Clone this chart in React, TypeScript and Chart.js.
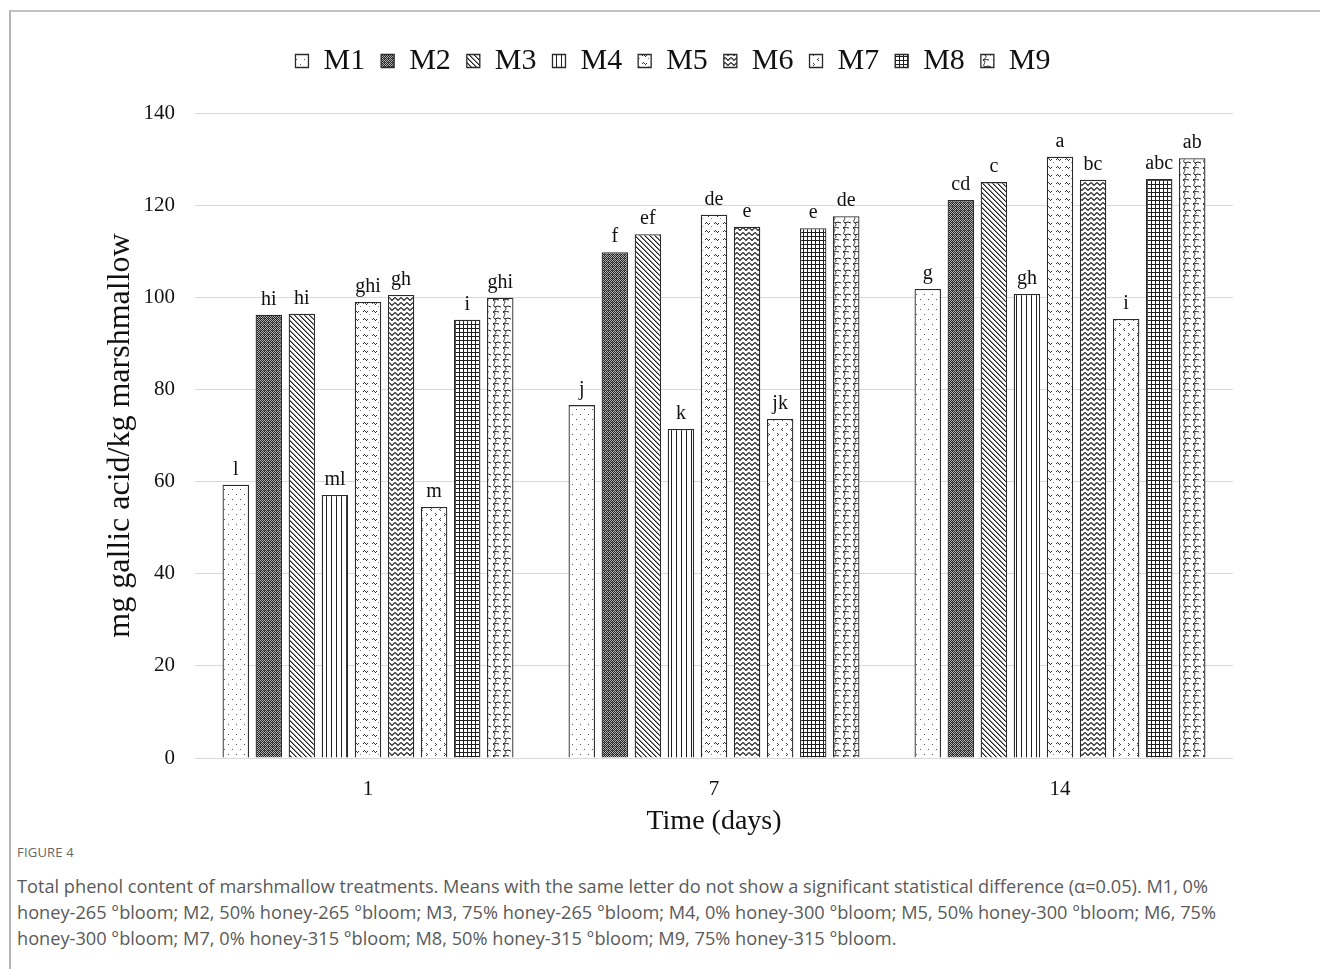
import React, { useEffect, useRef } from 'react';
import { Chart, registerables } from 'chart.js';

Chart.register(...registerables);

// ---- data ----
const DAYS = ['1', '7', '14'];
const SERIES = ['M1', 'M2', 'M3', 'M4', 'M5', 'M6', 'M7', 'M8', 'M9'];

const M1 = [59.3, 76.6, 101.8];
const M2 = [96.2, 109.8, 121.1];
const M3 = [96.4, 113.7, 125.0];
const M4 = [57.1, 71.4, 100.7];
const M5 = [99.0, 117.9, 130.5];
const M6 = [100.5, 115.3, 125.5];
const M7 = [54.5, 73.6, 95.3];
const M8 = [95.1, 115.0, 125.7];
const M9 = [99.9, 117.6, 130.2];

const M1_LETTERS = ['l', 'j', 'g'];
const M2_LETTERS = ['hi', 'f', 'cd'];
const M3_LETTERS = ['hi', 'ef', 'c'];
const M4_LETTERS = ['ml', 'k', 'gh'];
const M5_LETTERS = ['ghi', 'de', 'a'];
const M6_LETTERS = ['gh', 'e', 'bc'];
const M7_LETTERS = ['m', 'jk', 'i'];
const M8_LETTERS = ['i', 'e', 'abc'];
const M9_LETTERS = ['ghi', 'de', 'ab'];

const VALUES = [M1, M2, M3, M4, M5, M6, M7, M8, M9];
const LETTERS = [M1_LETTERS, M2_LETTERS, M3_LETTERS, M4_LETTERS, M5_LETTERS, M6_LETTERS, M7_LETTERS, M8_LETTERS, M9_LETTERS];

const Y_MIN = 0;
const Y_MAX = 140;
const Y_STEP = 20;

const Y_TITLE = 'mg gallic acid/kg marshmallow';
const X_TITLE = 'Time (days)';

const SERIF = '"Liberation Serif", "Times New Roman", serif';

// ---- patterns ----
type Drawer = (g: CanvasRenderingContext2D) => void;

function tile(w: number, h: number, draw: Drawer): HTMLCanvasElement {
  const c = document.createElement('canvas');
  c.width = w;
  c.height = h;
  const g = c.getContext('2d')!;
  g.fillStyle = '#ffffff';
  g.fillRect(0, 0, w, h);
  g.fillStyle = '#1e1e1e';
  g.strokeStyle = '#1e1e1e';
  draw(g);
  return c;
}

function px(g: CanvasRenderingContext2D, pts: number[][]) {
  pts.forEach(([x, y]) => g.fillRect(x, y, 1, 1));
}

const TILES: Array<() => HTMLCanvasElement> = [
  // M1 sparse dots
  () => tile(8, 10, (g) => {
    g.fillStyle = '#555';
    px(g, [[1, 2], [5, 7]]);
  }),
  // M2 dense dark dither
  () => tile(4, 4, (g) => {
    g.fillStyle = '#b0b0b0';
    g.fillRect(0, 0, 4, 4);
    g.fillStyle = '#262626';
    for (let y = 0; y < 4; y++) for (let x = 0; x < 4; x++) if ((x + y) % 2 === 0) g.fillRect(x, y, 1, 1);
    g.fillStyle = '#555';
    g.fillRect(1, 2, 1, 1);
  }),
  // M3 diagonal "\" lines
  () => tile(5, 5, (g) => {
    for (let i = 0; i < 5; i++) {
      g.fillStyle = '#1e1e1e';
      g.fillRect(i, i, 1, 1);
      g.fillStyle = '#8a8a8a';
      g.fillRect((i + 1) % 5, i, 1, 1);
    }
  }),
  // M4 vertical lines
  () => tile(5, 2, (g) => {
    g.fillRect(0, 0, 1, 2);
  }),
  // M5 small scattered waves
  () => tile(9, 8, (g) => {
    g.fillStyle = '#333';
    px(g, [[1, 3], [2, 2], [3, 3], [4, 4], [5, 3]]);
    g.fillStyle = '#888';
    px(g, [[7, 6]]);
  }),
  // M6 zigzag
  () => tile(6, 5, (g) => {
    g.lineWidth = 1.1;
    g.beginPath();
    g.moveTo(0, 0.5);
    g.lineTo(3, 3.5);
    g.lineTo(6, 0.5);
    g.stroke();
  }),
  // M7 sparse chevrons
  () => tile(9, 10, (g) => {
    g.fillStyle = '#444';
    px(g, [[1, 1], [2, 2], [1, 3]]);
    px(g, [[6, 6], [5, 7], [6, 8]]);
  }),
  // M8 grid
  () => tile(4, 4, (g) => {
    g.fillRect(0, 0, 4, 1);
    g.fillRect(0, 0, 1, 4);
  }),
  // M9 shingle / weave
  () => tile(10, 12, (g) => {
    g.lineWidth = 1;
    g.beginPath();
    g.moveTo(2, 0);
    g.bezierCurveTo(7, 2, 0, 5, 4, 7);
    g.bezierCurveTo(7, 9, 3, 11, 2, 12);
    g.moveTo(4, 7);
    g.quadraticCurveTo(7, 5, 10, 7);
    g.moveTo(0, 7);
    g.quadraticCurveTo(-3, 5, -6, 7);
    g.moveTo(2, 12);
    g.quadraticCurveTo(6, 11, 8, 12);
    g.moveTo(8, 0);
    g.quadraticCurveTo(6, -1, 2, 0);
    g.stroke();
  }),
];

// ---- plugins ----
const letterPlugin = {
  id: 'letterLabels',
  afterDatasetsDraw(chart: any) {
    const ctx = chart.ctx as CanvasRenderingContext2D;
    ctx.save();
    ctx.font = `20px ${SERIF}`;
    ctx.fillStyle = '#111';
    ctx.textAlign = 'center';
    ctx.textBaseline = 'alphabetic';
    chart.data.datasets.forEach((_ds: any, i: number) => {
      const meta = chart.getDatasetMeta(i);
      meta.data.forEach((bar: any, j: number) => {
        ctx.fillText(LETTERS[i][j], bar.x, bar.y - 10);
      });
    });
    ctx.restore();
  },
};

const legendGapPlugin = {
  id: 'legendGap',
  beforeInit(chart: any) {
    const legend = chart.legend;
    if (!legend) return;
    const orig = legend.fit;
    legend.fit = function () {
      orig.call(this);
      this.height += 27;
    };
  },
};

function ChartCanvas() {
  const ref = useRef<HTMLCanvasElement | null>(null);
  useEffect(() => {
    const canvas = ref.current!;
    const ctx = canvas.getContext('2d')!;
    const patterns = TILES.map((t) => ctx.createPattern(t(), 'repeat')!);
    const chart = new Chart(canvas, {
      type: 'bar',
      data: {
        labels: DAYS,
        datasets: SERIES.map((name, i) => ({
          label: name,
          data: VALUES[i],
          backgroundColor: patterns[i],
          borderColor: '#2a2a2a',
          borderWidth: 1.3,
          borderSkipped: 'bottom',
          categoryPercentage: 0.86,
          barPercentage: 0.8,
        })),
      },
      options: {
        responsive: false,
        animation: false,
        events: [],
        layout: { padding: { top: 18, left: 30, right: 15, bottom: 0 } },
        plugins: {
          tooltip: { enabled: false },
          legend: {
            display: true,
            position: 'top',
            labels: {
              boxWidth: 13,
              boxHeight: 13,
              padding: 16,
              color: '#111',
              font: { family: SERIF, size: 30 },
            },
          },
        },
        scales: {
          x: {
            grid: { display: false },
            border: { display: false },
            ticks: { color: '#111', font: { family: SERIF, size: 21 }, padding: 11 },
            title: {
              display: true,
              text: X_TITLE,
              color: '#111',
              font: { family: SERIF, size: 28 },
              padding: { top: 0, bottom: 4 },
            },
            afterFit: (s: any) => {
              s.height = 84;
            },
          },
          y: {
            min: Y_MIN,
            max: Y_MAX,
            ticks: { stepSize: Y_STEP, color: '#111', font: { family: SERIF, size: 21 }, padding: 20 },
            grid: { color: '#d9d9d9', lineWidth: 1, drawTicks: false },
            border: { display: false },
            title: {
              display: true,
              text: Y_TITLE,
              color: '#111',
              font: { family: SERIF, size: 32 },
              padding: { top: 60, bottom: 0 },
            },
            afterFit: (s: any) => {
              s.width = 154;
            },
          },
          spacer: {
            type: 'linear',
            position: 'right',
            display: true,
            grid: { display: false },
            ticks: { display: false },
            border: { display: false },
            afterFit: (s: any) => {
              s.width = 72;
            },
          },
        },
      } as any,
      plugins: [letterPlugin, legendGapPlugin],
    });
    return () => chart.destroy();
  }, []);
  return <canvas ref={ref} width={1309} height={830} style={{ width: 1309, height: 830, display: 'block' }} />;
}

export default function App() {
  const capFont = '"Open Sans", "Noto Sans", sans-serif';
  return (
    <div>
      <div
        style={{
          position: 'absolute',
          left: 9,
          top: 10,
          width: 1311,
          height: 959,
          borderTop: '2px solid #c2c2c2',
          borderLeft: '2px solid #b5b5b5',
          boxSizing: 'border-box',
          background: '#fff',
        }}
      />
      <div style={{ position: 'absolute', left: 11, top: 12, width: 1309, height: 830 }}>
        <ChartCanvas />
      </div>
      <div
        style={{
          position: 'absolute',
          left: 17,
          top: 843,
          fontFamily: capFont,
          fontSize: 13,
          lineHeight: '18px',
          color: '#666',
          letterSpacing: 0.2,
        }}
      >
        FIGURE 4
      </div>
      <div
        style={{
          position: 'absolute',
          left: 17,
          top: 873,
          width: 1300,
          whiteSpace: 'nowrap',
          fontFamily: capFont,
          fontSize: 18.2,
          lineHeight: '26px',
          color: '#5a5a5a',
        }}
      >
        Total phenol content of marshmallow treatments. Means with the same letter do not show a significant statistical difference (α=0.05). M1, 0%
        <br />
        honey-265 °bloom; M2, 50% honey-265 °bloom; M3, 75% honey-265 °bloom; M4, 0% honey-300 °bloom; M5, 50% honey-300 °bloom; M6, 75%
        <br />
        honey-300 °bloom; M7, 0% honey-315 °bloom; M8, 50% honey-315 °bloom; M9, 75% honey-315 °bloom.
      </div>
    </div>
  );
}
